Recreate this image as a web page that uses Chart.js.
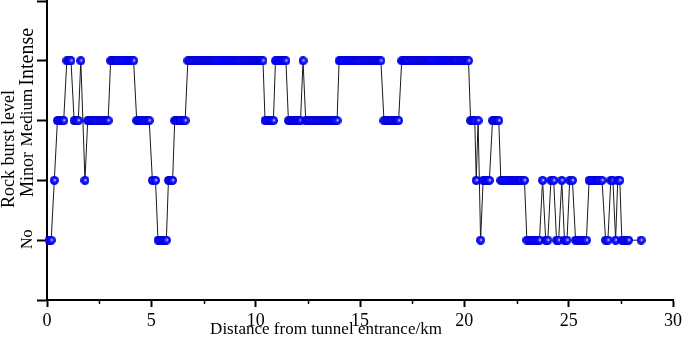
<!DOCTYPE html>
<html>
<head>
<meta charset="utf-8">
<script src="https://cdn.jsdelivr.net/npm/chart.js@4/dist/chart.umd.min.js"></script>
<style>
  html, body { margin: 0; padding: 0; background: #fff; }
  #wrap { width: 685px; height: 337px; }
</style>
</head>
<body>
<div id="wrap"><canvas id="c" width="685" height="337"></canvas></div>
<script>
// ---- data ----
const levelLabels = ['No', 'Minor', 'Medium', 'Intense'];
const xMajorTicks = [0, 5, 10, 15, 20, 25, 30];
const xMinorTicks = [2.5, 7.5, 12.5, 17.5, 22.5, 27.5];

const distanceKm = [
  0.1, 0.2,
  0.35,
  0.5, 0.6, 0.7, 0.8,
  0.95, 1.05, 1.15,
  1.3, 1.4, 1.5,
  1.62,
  1.82,
  1.95, 2.05, 2.15, 2.25, 2.35, 2.45, 2.55, 2.65, 2.75, 2.85, 2.93,
  3.05, 3.15, 3.25, 3.35, 3.45, 3.55, 3.65, 3.75, 3.85, 3.95, 4.05, 4.15,
  4.3, 4.4, 4.5, 4.6, 4.7, 4.8, 4.9,
  5.05, 5.2,
  5.32, 5.42, 5.52, 5.62, 5.72,
  5.82, 5.92, 6.02,
  6.12, 6.22, 6.32, 6.42, 6.52, 6.62,
  6.75, 6.85, 6.95, 7.05, 7.15, 7.25, 7.35, 7.45, 7.55, 7.65, 7.75, 7.85, 7.95, 8.05, 8.15, 8.25, 8.35, 8.45, 8.55,
  8.65, 8.75, 8.85, 8.95, 9.05, 9.15, 9.25, 9.35, 9.45, 9.55, 9.65, 9.75, 9.85, 9.95, 10.05, 10.15, 10.25, 10.35,
  10.45, 10.55, 10.65, 10.75, 10.85,
  10.95, 11.05, 11.15, 11.25, 11.35, 11.45,
  11.57, 11.67, 11.77, 11.87, 11.97, 12.07, 12.15,
  12.27,
  12.4, 12.5, 12.6, 12.7, 12.8, 12.9, 13.0, 13.1, 13.2, 13.3, 13.4, 13.5, 13.6, 13.7, 13.8, 13.9,
  14.0, 14.1, 14.2, 14.3, 14.4, 14.5, 14.6, 14.7, 14.8, 14.9, 15.0, 15.1, 15.2, 15.3, 15.4, 15.5, 15.6, 15.7, 15.8, 15.9, 16.0,
  16.15, 16.25, 16.35, 16.45, 16.55, 16.65, 16.75, 16.85,
  17.0, 17.1, 17.2, 17.3, 17.4, 17.5, 17.6, 17.7, 17.8, 17.9, 18.0, 18.1, 18.2, 18.3, 18.4, 18.5, 18.6,
  18.7, 18.8, 18.9, 19.0, 19.1, 19.2, 19.3, 19.4, 19.5, 19.6, 19.7, 19.8, 19.9, 20.0, 20.1, 20.2,
  20.3, 20.4, 20.5,
  20.57,
  20.66,
  20.78,
  20.9, 21.0, 21.1, 21.2,
  21.35, 21.45, 21.55, 21.65,
  21.75, 21.85, 21.95, 22.05, 22.15, 22.25, 22.35, 22.45, 22.55, 22.65, 22.75, 22.88,
  23.0, 23.1, 23.2, 23.3, 23.4, 23.5, 23.6,
  23.75,
  23.9, 24.0,
  24.15, 24.28,
  24.42, 24.52,
  24.67,
  24.8, 24.92,
  25.05, 25.18,
  25.33, 25.43, 25.53, 25.63, 25.73, 25.85,
  25.98, 26.08, 26.18, 26.28, 26.38, 26.48, 26.6,
  26.77, 26.88,
  27.02, 27.12,
  27.25,
  27.35, 27.45,
  27.55, 27.65, 27.75, 27.87,
  28.47
];

const burstLevel = [
  0, 0,
  1,
  2, 2, 2, 2,
  3, 3, 3,
  2, 2, 2,
  3,
  1,
  2, 2, 2, 2, 2, 2, 2, 2, 2, 2, 2,
  3, 3, 3, 3, 3, 3, 3, 3, 3, 3, 3, 3,
  2, 2, 2, 2, 2, 2, 2,
  1, 1,
  0, 0, 0, 0, 0,
  1, 1, 1,
  2, 2, 2, 2, 2, 2,
  3, 3, 3, 3, 3, 3, 3, 3, 3, 3, 3, 3, 3, 3, 3, 3, 3, 3, 3,
  3, 3, 3, 3, 3, 3, 3, 3, 3, 3, 3, 3, 3, 3, 3, 3, 3, 3,
  2, 2, 2, 2, 2,
  3, 3, 3, 3, 3, 3,
  2, 2, 2, 2, 2, 2, 2,
  3,
  2, 2, 2, 2, 2, 2, 2, 2, 2, 2, 2, 2, 2, 2, 2, 2,
  3, 3, 3, 3, 3, 3, 3, 3, 3, 3, 3, 3, 3, 3, 3, 3, 3, 3, 3, 3, 3,
  2, 2, 2, 2, 2, 2, 2, 2,
  3, 3, 3, 3, 3, 3, 3, 3, 3, 3, 3, 3, 3, 3, 3, 3, 3,
  3, 3, 3, 3, 3, 3, 3, 3, 3, 3, 3, 3, 3, 3, 3, 3,
  2, 2, 2,
  1,
  2,
  0,
  1, 1, 1, 1,
  2, 2, 2, 2,
  1, 1, 1, 1, 1, 1, 1, 1, 1, 1, 1, 1,
  0, 0, 0, 0, 0, 0, 0,
  1,
  0, 0,
  1, 1,
  0, 0,
  1,
  0, 0,
  1, 1,
  0, 0, 0, 0, 0, 0,
  1, 1, 1, 1, 1, 1, 1,
  0, 0,
  1, 1,
  0,
  1, 1,
  0, 0, 0, 0,
  0
];

const xTitle = 'Distance from tunnel entrance/km';
const yTitle = 'Rock burst level';

// ---- styling ----
const SERIF = "'Liberation Serif', 'Times New Roman', serif";
const levelFontSizes = [16, 18, 17, 20];
const levelLabelShift = [-1, -6, -3, -4];

// sphere-like marker
const marker = document.createElement('canvas');
marker.width = 9; marker.height = 9;
(function () {
  const g = marker.getContext('2d');
  const grad = g.createRadialGradient(5.2, 4.1, 0.1, 4.5, 4.5, 4.5);
  grad.addColorStop(0, '#ffffff');
  grad.addColorStop(0.14, '#a0a0ff');
  grad.addColorStop(0.32, '#2a2aff');
  grad.addColorStop(0.8, '#0000fa');
  grad.addColorStop(1, '#0000b8');
  g.fillStyle = grad;
  g.beginPath();
  g.arc(4.5, 4.5, 4.45, 0, Math.PI * 2);
  g.fill();
})();

const points = distanceKm.map((d, i) => ({ x: d, y: burstLevel[i] }));

const decor = {
  id: 'decor',
  afterDraw(chart) {
    const ctx = chart.ctx;
    const xs = chart.scales.x, ys = chart.scales.y;
    const area = chart.chartArea;
    ctx.save();
    // minor x ticks
    ctx.strokeStyle = '#000';
    ctx.lineWidth = 1.5;
    xMinorTicks.forEach(v => {
      const px = Math.round(xs.getPixelForValue(v)) + 0.5;
      ctx.beginPath();
      ctx.moveTo(px, area.bottom);
      ctx.lineTo(px, area.bottom + 4);
      ctx.stroke();
    });
    // y tick labels (rotated)
    ctx.fillStyle = '#000';
    ctx.textAlign = 'center';
    ctx.textBaseline = 'middle';
    levelLabels.forEach((lab, i) => {
      const py = ys.getPixelForValue(i) + levelLabelShift[i];
      ctx.save();
      ctx.translate(28, py);
      ctx.rotate(-Math.PI / 2);
      ctx.font = levelFontSizes[i] + 'px ' + SERIF;
      ctx.fillText(lab, 0, 0);
      ctx.restore();
    });
    // y title
    ctx.save();
    ctx.translate(9, 149);
    ctx.rotate(-Math.PI / 2);
    ctx.font = '18px ' + SERIF;
    ctx.fillText(yTitle, 0, 0);
    ctx.restore();
    // x title
    ctx.font = '17px ' + SERIF;
    ctx.textBaseline = 'alphabetic';
    ctx.fillText(xTitle, 326, 334);
    ctx.restore();
  }
};

new Chart(document.getElementById('c'), {
  type: 'line',
  data: {
    datasets: [{
      data: points,
      borderColor: '#1a1a1a',
      borderWidth: 1,
      tension: 0,
      pointStyle: marker,
      pointRadius: 4.5,
      pointHoverRadius: 4.5,
      fill: false,
      clip: 8
    }]
  },
  options: {
    responsive: false,
    animation: false,
    events: [],
    layout: { autoPadding: false, padding: { left: 0, right: 9, top: 1, bottom: 0 } },
    plugins: { legend: { display: false }, tooltip: { enabled: false } },
    scales: {
      x: {
        type: 'linear',
        min: 0, max: 30,
        afterBuildTicks: s => { s.ticks = xMajorTicks.map(v => ({ value: v })); },
        border: { display: true, color: '#000', width: 2 },
        grid: { drawOnChartArea: false, drawTicks: true, tickLength: 7, color: '#000', tickWidth: 2 },
        ticks: {
          color: '#000', padding: 3, maxRotation: 0, autoSkip: false,
          font: { family: SERIF, size: 18 },
          callback: v => String(v)
        },
        afterFit: s => { s.height = 37; }
      },
      y: {
        type: 'linear',
        min: -1, max: 4,
        ticks: { stepSize: 1, display: false },
        border: { display: true, color: '#000', width: 2 },
        grid: { drawOnChartArea: false, drawTicks: true, tickLength: 10, color: '#000', tickWidth: 2 },
        afterFit: s => { s.width = 47; }
      }
    }
  },
  plugins: [decor]
});
</script>
</body>
</html>
